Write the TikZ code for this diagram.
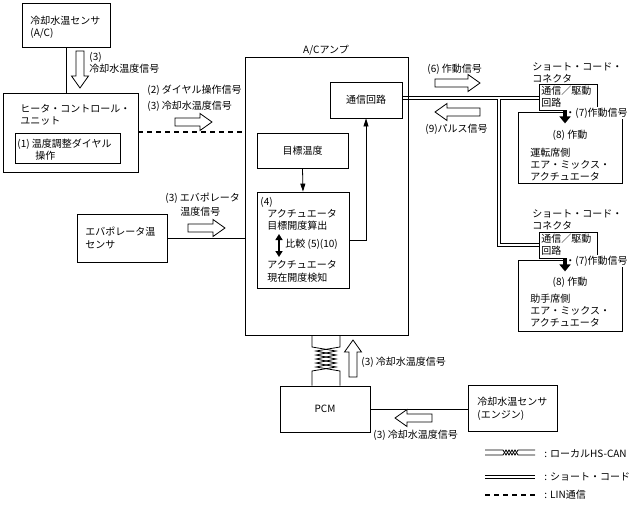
\documentclass[tikz,border=0pt]{standalone}
\usepackage{fontspec}
\setmainfont{Noto Sans CJK JP}
\usetikzlibrary{arrows.meta,fit}
\begin{document}
\begin{tikzpicture}[x=1pt,y=-1pt,
  every path/.style={line width=0.8pt},
  box/.style={draw, line width=0.8pt, inner sep=0pt},
  txt/.style={inner sep=0pt, anchor=west, font=\fontsize{10}{12}\selectfont},
  ctxt/.style={inner sep=0pt, anchor=center, font=\fontsize{10}{12}\selectfont},
  lin/.style={line width=1.4pt, dash pattern=on 5pt off 4pt},
  thinarr/.style={-{Triangle[width=5pt,length=8pt]}},
  blkarr/.style={line width=3.5pt, -{Triangle[width=11pt,length=7pt]}},
  pics/harrow/.style={code={\draw[line width=0.8pt, fill=white] (0,-4) -- (#1-12,-4) -- (#1-12,-8.5) -- (#1,0) -- (#1-12,8.5) -- (#1-12,4) -- (0,4) -- cycle;}}]
\useasboundingbox (0,0) rectangle (636,509);

% ---------- boxes ----------
\node[box, fit={(22,3) (110,47)}] (acs) {};
\node[box, fit={(3,93) (138,172)}] (hcu) {};
\node[box, fit={(15,133) (120,163)}] (dial) {};
\node[box, fit={(77,214) (167,262)}] (evap) {};
\node[box, fit={(245,57) (408,335)}] (amp) {};
\node[box, fit={(330,82) (402,118)}] (comm) {};
\node[box, fit={(257,133) (348,168)}] (goal) {};
\node[box, fit={(257,192) (349,288)}] (calc) {};
\node[box, fit={(518,112) (622,183)}] (act1) {};
\node[box, fit={(518,260) (622,331)}] (act2) {};
\node[box, fill=white, fit={(539,84) (597,110)}] (c1) {};
\node[box, fill=white, fit={(539,232) (597,258)}] (c2) {};
\node[box, fit={(280,386) (370,432)}] (pcm) {};
\node[box, fit={(468,385) (557,431)}] (eng) {};

% ---------- texts ----------
\node[txt] (t1) at (30,21) {冷却水温センサ};
\node[txt] (t2) at (30,33) {(A/C)};
\node[txt] (t3) at (89,57) {(3)};
\node[txt] (t4) at (89,69) {冷却水温度信号};
\node[txt] (t5) at (147,90) {(2) ダイヤル操作信号};
\node[txt] (t6) at (147,106) {(3) 冷却水温度信号};
\node[txt] (t7) at (20,109) {ヒータ・コントロール・};
\node[txt] (t8) at (20,121) {ユニット};
\node[txt] (t9) at (17,144) {(1) 温度調整ダイヤル};
\node[txt] (t10) at (35,156) {操作};
\node[txt] (t11) at (85,232) {エバポレータ温};
\node[txt] (t12) at (85,245) {センサ};
\node[txt] (t13) at (165,198) {(3) エバポレータ};
\node[txt] (t14) at (180,212) {温度信号};
\node[ctxt] (t15) at (326,50) {A/Cアンプ};
\node[ctxt] (t16) at (comm) {通信回路};
\node[ctxt] (t17) at (goal) {目標温度};
\node[txt] (t18) at (260,202) {(4)};
\node[txt] (t19) at (267,214) {アクチュエータ};
\node[txt] (t20) at (267,226) {目標開度算出};
\node[txt] (t21) at (285,244) {比較 (5)(10)};
\node[txt] (t22) at (267,265) {アクチュエータ};
\node[txt] (t23) at (267,278) {現在開度検知};
\node[txt] (t24) at (427,69) {(6) 作動信号};
\node[txt] (t25) at (425,129) {(9)パルス信号};
\node[txt] (t26) at (532,67) {ショート・コード・};
\node[txt] (t27) at (532,79) {コネクタ};
\node[txt] (t28) at (541,91) {通信／駆動};
\node[txt] (t29) at (541,103) {回路};
\node[txt, fill=white, inner sep=1pt] (t30) at (564,113) {・(7)作動信号};
\node[ctxt] (t31) at (570,135) {(8) 作動};
\node[txt] (t32) at (530,153) {運転席側};
\node[txt] (t33) at (530,165) {エア・ミックス・};
\node[txt] (t34) at (530,177) {アクチュエータ};
\node[txt] (t35) at (532,214) {ショート・コード・};
\node[txt] (t36) at (532,226) {コネクタ};
\node[txt] (t37) at (541,239) {通信／駆動};
\node[txt] (t38) at (541,251) {回路};
\node[txt, fill=white, inner sep=1pt] (t39) at (564,261) {・(7)作動信号};
\node[ctxt] (t40) at (570,282) {(8) 作動};
\node[txt] (t41) at (530,299) {助手席側};
\node[txt] (t42) at (530,311) {エア・ミックス・};
\node[txt] (t43) at (530,323) {アクチュエータ};
\node[ctxt] (t44) at (pcm) {PCM};
\node[txt] (t45) at (361,362) {(3) 冷却水温度信号};
\node[txt] (t46) at (477,402) {冷却水温センサ};
\node[txt] (t47) at (477,415) {(エンジン)};
\node[txt] (t48) at (373,435) {(3) 冷却水温度信号};
\node[txt] (t49) at (544,454) {: ローカルHS-CAN};
\node[txt] (t50) at (544,477) {: ショート・コード};
\node[txt] (t51) at (544,495) {: LIN通信};

% ---------- connectors ----------
\draw (acs.south) -- (acs.south |- hcu.north);
\draw[lin] (hcu.east |- 0,132) -- (amp.west |- 0,132);
\draw (evap.east) -- (evap.east -| amp.west);
\draw[thinarr] (goal.south) -- (calc.north);
\draw[thinarr] (calc.east) -| (comm.south);
\draw (pcm.east) -- (pcm.east -| eng.west);

% short cords (double lines)
\draw (comm.east |- 0,96) -- (c1.west |- 0,96);
\draw (comm.east |- 0,99) -- (497,99) -- (497,246) -- (c2.west |- 0,246);
\draw (c1.west |- 0,99) -- (500,99) -- (500,243) -- (c2.west |- 0,243);

% black arrows
\draw[blkarr] ([xshift=-3pt]c1.south) -- ([xshift=-3pt,yshift=-13pt]c1.south);
\draw[blkarr] ([xshift=-3pt]c2.south) -- ([xshift=-3pt,yshift=-13pt]c2.south);

% comparison double arrow
\draw[line width=1.6pt, {Triangle[width=7pt,length=6pt]}-{Triangle[width=7pt,length=6pt]}] (279,234) -- (279,257);

% twisted pair amp - PCM
\draw (amp.south -| 312,0) -- (312,347) -- (336,351) -- (316,355) -- (336,359) -- (316,363) -- (336,367) -- (312,371) -- (pcm.north -| 312,0);
\draw (amp.south -| 340,0) -- (340,347) -- (316,351) -- (336,355) -- (316,359) -- (336,363) -- (316,367) -- (340,371) -- (pcm.north -| 340,0);

% hollow arrows
\pic[rotate=-90] at (80,51) {harrow=37};
\pic at (175,122) {harrow=37};
\pic at (188,228) {harrow=37};
\pic at (435,83) {harrow=45};
\pic[rotate=180] at (480,112) {harrow=45};
\pic[rotate=90] at (353,377) {harrow=37};
\pic[rotate=180] at (432,418) {harrow=37};

% ---------- legend ----------
\draw (485,450) -- (503,450) -- (506,455) -- (509,450) -- (512,455) -- (515,450) -- (518,455) -- (535,455);
\draw (485,455) -- (503,455) -- (506,450) -- (509,455) -- (512,450) -- (515,455) -- (518,450) -- (535,450);
\draw (485,475) -- (535,475);
\draw (485,478.5) -- (535,478.5);
\draw[lin] (485,495) -- (535,495);
\end{tikzpicture}
\end{document}
